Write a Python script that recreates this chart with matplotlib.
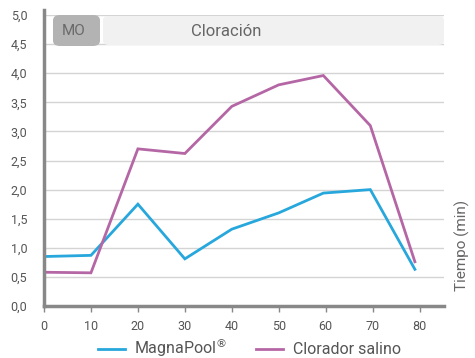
import matplotlib
matplotlib.use("Agg")
from matplotlib import pyplot as plt
from matplotlib.patches import FancyBboxPatch

plt.rcParams['font.family'] = ['Roboto', 'DejaVu Sans']

x = [0, 10, 20, 30, 40, 50, 59.5, 69.5, 79]
magnapool = [0.85, 0.87, 1.75, 0.81, 1.32, 1.60, 1.94, 2.00, 0.63]
clorador = [0.58, 0.57, 2.70, 2.62, 3.43, 3.80, 3.96, 3.10, 0.76]
yticks = [0, 0.5, 1, 1.5, 2, 2.5, 3, 3.5, 4, 4.5, 5]
ylabels = ['0,0', '0,5', '1,0', '1,5', '2,0', '2,5', '3,0', '3,5', '4,0', '4,5', '5,0']
xticks = [0, 10, 20, 30, 40, 50, 60, 70, 80]

blue = '#27a7dc'
pink = '#b567a5'
txt = '#555555'

fig = plt.figure(figsize=(4.75, 3.58), dpi=100)
ax = fig.add_axes([44 / 475, 1 - 306 / 358, 400 / 475, 291 / 358])

for v in yticks[1:]:
    ax.axhline(v, color='#d4d4d4', lw=1, zorder=0)

ax.plot(x, magnapool, color=blue, lw=2, label='MagnaPool$^{®}$', solid_joinstyle='miter')
ax.plot(x, clorador, color=pink, lw=2, label='Clorador salino', solid_joinstyle='miter')

ax.set_xlim(0, 85.2)
ax.set_ylim(0, 5)
ax.set_yticks(yticks)
ax.set_yticklabels(ylabels)
ax.set_xticks(xticks)
ax.tick_params(axis='y', length=0, pad=12, labelsize=9, labelcolor=txt)
ax.tick_params(axis='x', length=4, width=1, color='#888888', pad=6, labelsize=9, labelcolor=txt)
for s in ['top', 'right']:
    ax.spines[s].set_visible(False)
ax.spines['left'].set_color('#888888')
ax.spines['left'].set_linewidth(2.5)
ax.spines['left'].set_bounds(0, 5.08)
ax.spines['bottom'].set_color('#888888')
ax.spines['bottom'].set_linewidth(2.5)

# title band
band = FancyBboxPatch((103 / 475, 1 - 45 / 358), 341 / 475, 29 / 358,
                      boxstyle='round,pad=0,rounding_size=0.012',
                      transform=fig.transFigure, facecolor='#f1f1f1',
                      edgecolor='none', zorder=3)
fig.patches.append(band)
mo = FancyBboxPatch((53 / 475, 1 - 46 / 358), 47 / 475, 31 / 358,
                    boxstyle='round,pad=0,rounding_size=0.015',
                    transform=fig.transFigure, facecolor='#b3b3b3',
                    edgecolor='none', zorder=4)
fig.patches.append(mo)
fig.text(74 / 475, 1 - 31 / 358, 'MO', ha='center', va='center', fontsize=11,
         color='#6a6a6a', zorder=6)
fig.text(226 / 475, 1 - 31 / 358, 'Cloración', ha='center', va='center',
         fontsize=12, color='#666666', zorder=6)

fig.text(462 / 475, 1 - 245 / 358, 'Tiempo (min)', rotation=90, ha='center',
         va='center', fontsize=11, color='#666666')

fig.legend(loc='center', bbox_to_anchor=(0.525, 1 - 348 / 358), ncol=2,
           frameon=False, fontsize=11.5, handlelength=1.7, handletextpad=0.6,
           columnspacing=1.8, labelcolor=txt, borderpad=0)

fig.savefig('out.png', dpi=100)
